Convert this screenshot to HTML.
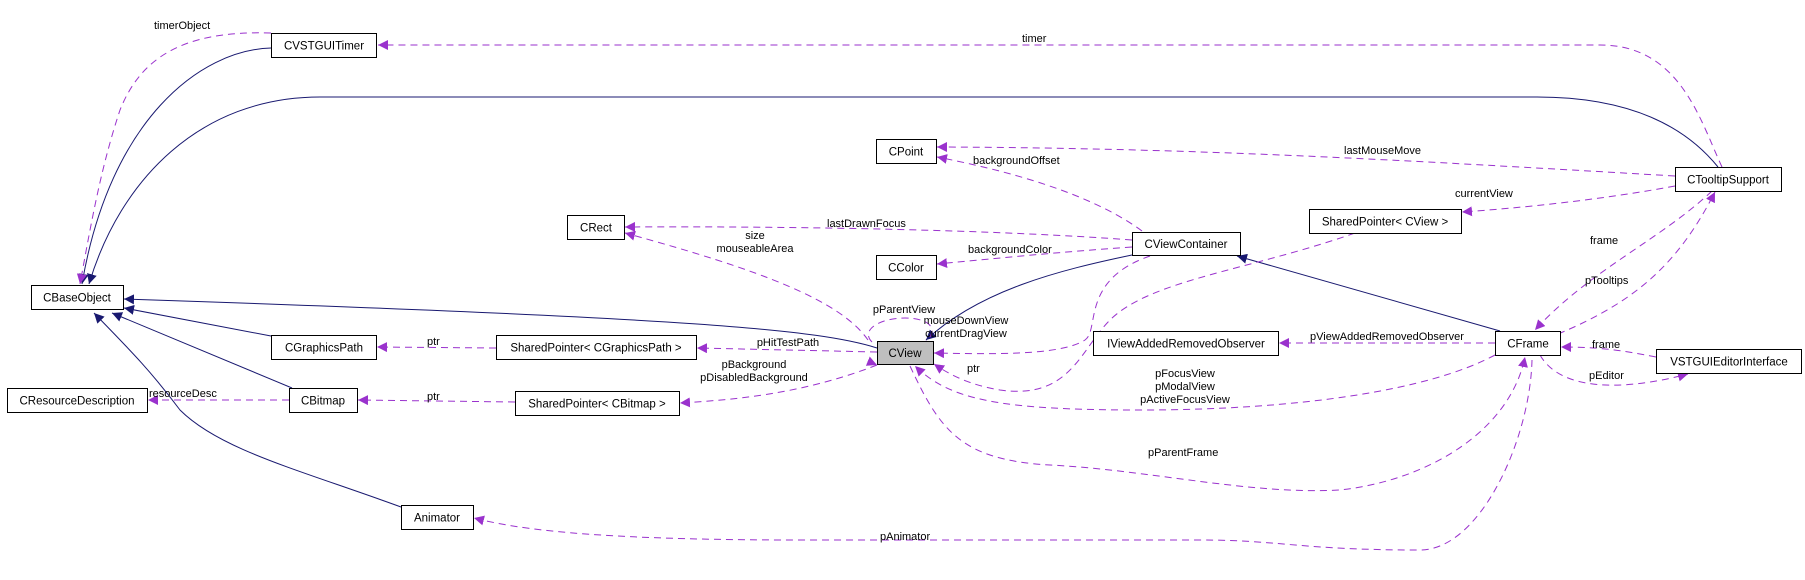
<!DOCTYPE html>
<html><head><meta charset="utf-8"><style>
html,body{margin:0;padding:0;background:#fff;}
svg{display:block;}
text{font-family:"Liberation Sans",Arial,sans-serif;font-size:11px;fill:#000;}
.n{font-size:11.5px;}
.b{fill:#fff;stroke:#000;stroke-width:1;}
.s{fill:none;stroke:#191970;stroke-width:1;}
.d{fill:none;stroke:#9a32cd;stroke-width:1;stroke-dasharray:7,5;}
</style></head><body>
<svg width="1805" height="580" viewBox="0 0 1805 580" xmlns="http://www.w3.org/2000/svg">
<defs>
<marker id="an" viewBox="0 0 10 10" refX="10" refY="5" markerWidth="10" markerHeight="10" markerUnits="userSpaceOnUse" orient="auto"><path d="M0,0 L10,5 L0,10 z" fill="#191970"/></marker>
<marker id="ap" viewBox="0 0 10 10" refX="10" refY="5" markerWidth="10" markerHeight="10" markerUnits="userSpaceOnUse" orient="auto"><path d="M0,0 L10,5 L0,10 z" fill="#9a32cd"/></marker>
</defs>

<!-- solid inheritance edges -->
<path class="s" marker-end="url(#an)" d="M271,48 C200,50 110,120 82,284"/>
<path class="s" marker-end="url(#an)" d="M1718,167 C1680,120 1620,97 1537,97 L320,97 C200,97 120,180 89,284"/>
<path class="s" marker-end="url(#an)" d="M877,348 C820,330 700,318 124,299"/>
<path class="s" marker-end="url(#an)" d="M271,336 L124,308"/>
<path class="s" marker-end="url(#an)" d="M292,388 L112,313"/>
<path class="s" marker-end="url(#an)" d="M401,507 C300,470 220,450 180,410 C150,370 130,350 94,313"/>
<path class="s" marker-end="url(#an)" d="M1132,255 C1060,270 980,290 926,340"/>
<path class="s" marker-end="url(#an)" d="M1500,331 L1237,256"/>

<!-- dashed usage edges -->
<path class="d" marker-end="url(#ap)" d="M1722,167 C1700,120 1680,45 1600,45 L378,45"/>
<text x="1022" y="42">timer</text>
<path class="d" marker-end="url(#ap)" d="M271,33 C180,30 140,60 120,110 C100,170 90,230 80,284"/>
<text x="154" y="29">timerObject</text>
<path class="d" marker-end="url(#ap)" d="M1675,176 C1400,160 1200,148 937,147"/>
<text x="1344" y="154">lastMouseMove</text>
<path class="d" marker-end="url(#ap)" d="M1142,231 C1100,200 1030,175 937,157"/>
<text x="973" y="164">backgroundOffset</text>
<path class="d" marker-end="url(#ap)" d="M1132,240 C1000,230 800,226 625,227"/>
<text x="827" y="227">lastDrawnFocus</text>
<path class="d" marker-end="url(#ap)" d="M1132,247 C1060,252 1000,258 937,264"/>
<text x="968" y="253">backgroundColor</text>
<path class="d" marker-end="url(#ap)" d="M868,340 C840,300 760,270 625,233"/>
<text x="755" y="239" text-anchor="middle">size</text>
<text x="755" y="252" text-anchor="middle">mouseableArea</text>
<path class="d" d="M872,342 C860,330 880,318 905,318 C930,318 940,330 925,342"/>
<text x="904" y="313" text-anchor="middle">pParentView</text>
<path class="d" marker-end="url(#ap)" d="M877,352 L697,348"/>
<text x="788" y="346" text-anchor="middle">pHitTestPath</text>
<path class="d" marker-end="url(#ap)" d="M877,365 C800,395 730,400 680,403"/>
<text x="754" y="368" text-anchor="middle">pBackground</text>
<path class="d" marker-end="url(#ap)" d="M877,365"/>
<text x="754" y="381" text-anchor="middle">pDisabledBackground</text>
<path class="d" marker-end="url(#ap)" d="M496,348 L377,347"/>
<text x="427" y="345">ptr</text>
<path class="d" marker-end="url(#ap)" d="M515,402 L358,400"/>
<text x="427" y="400">ptr</text>
<path class="d" marker-end="url(#ap)" d="M289,400 L148,400"/>
<text x="149" y="397">resourceDesc</text>
<path class="d" marker-end="url(#ap)" d="M1150,256 C1080,280 1100,330 1085,340 C1060,356 990,354 934,353"/>
<text x="966" y="324" text-anchor="middle">mouseDownView</text>
<text x="966" y="337" text-anchor="middle">currentDragView</text>
<path class="d" marker-end="url(#ap)" d="M1355,233 C1250,270 1150,280 1110,320 C1080,350 1070,400 1000,390 C970,385 950,375 934,364"/>
<text x="967" y="372">ptr</text>
<path class="d" marker-end="url(#ap)" d="M1675,186 C1600,200 1520,208 1462,212"/>
<text x="1455" y="197">currentView</text>
<path class="d" marker-end="url(#ap)" d="M1495,343 L1279,343"/>
<text x="1387" y="340" text-anchor="middle">pViewAddedRemovedObserver</text>
<path class="d" marker-end="url(#ap)" d="M1495,355 C1430,390 1300,410 1140,410 C1000,410 950,400 915,366"/>
<text x="1185" y="377" text-anchor="middle">pFocusView</text>
<text x="1185" y="390" text-anchor="middle">pModalView</text>
<text x="1185" y="403" text-anchor="middle">pActiveFocusView</text>
<path class="d" marker-end="url(#ap)" d="M910,366 C940,430 960,460 1050,465 C1150,470 1250,495 1340,490 C1430,480 1510,430 1525,357"/>
<text x="1148" y="456">pParentFrame</text>
<path class="d" marker-end="url(#ap)" d="M1532,360 C1530,440 1480,550 1420,550 C1300,550 1280,540 1200,540 L800,540 C600,540 520,530 474,518"/>
<text x="880" y="540">pAnimator</text>
<path class="d" marker-end="url(#ap)" d="M1712,191 C1660,240 1590,270 1535,330"/>
<text x="1590" y="244">frame</text>
<path class="d" marker-end="url(#ap)" d="M1558,334 C1640,300 1680,260 1715,192"/>
<text x="1585" y="284">pTooltips</text>
<path class="d" marker-end="url(#ap)" d="M1656,357 C1620,350 1600,347 1561,347"/>
<text x="1592" y="348">frame</text>
<path class="d" marker-end="url(#ap)" d="M1540,355 C1560,390 1620,392 1688,374"/>
<text x="1589" y="379">pEditor</text>

<!-- nodes -->
<rect class="b" x="271.5" y="33.5" width="105" height="24"/><text class="n" x="324" y="49.5" text-anchor="middle">CVSTGUITimer</text>
<rect class="b" x="31.5" y="285.5" width="92" height="24"/><text class="n" x="77" y="301.5" text-anchor="middle">CBaseObject</text>
<rect class="b" x="876.5" y="139.5" width="60" height="24"/><text class="n" x="906" y="155.5" text-anchor="middle">CPoint</text>
<rect class="b" x="567.5" y="215.5" width="57" height="24"/><text class="n" x="596" y="231.5" text-anchor="middle">CRect</text>
<rect class="b" x="876.5" y="255.5" width="60" height="24"/><text class="n" x="906" y="271.5" text-anchor="middle">CColor</text>
<rect class="b" x="1132.5" y="232.5" width="108" height="23"/><text class="n" x="1186" y="248" text-anchor="middle">CViewContainer</text>
<rect x="877.5" y="341.5" width="56" height="23" fill="#bfbfbf" stroke="#000"/><text class="n" x="905" y="357" text-anchor="middle">CView</text>
<rect class="b" x="271.5" y="335.5" width="105" height="24"/><text class="n" x="324" y="351.5" text-anchor="middle">CGraphicsPath</text>
<rect class="b" x="496.5" y="335.5" width="200" height="24"/><text class="n" x="596" y="351.5" text-anchor="middle">SharedPointer&lt; CGraphicsPath &gt;</text>
<rect class="b" x="7.5" y="388.5" width="140" height="24"/><text class="n" x="77" y="404.5" text-anchor="middle">CResourceDescription</text>
<rect class="b" x="289.5" y="388.5" width="68" height="24"/><text class="n" x="323" y="404.5" text-anchor="middle">CBitmap</text>
<rect class="b" x="515.5" y="391.5" width="164" height="24"/><text class="n" x="597" y="407.5" text-anchor="middle">SharedPointer&lt; CBitmap &gt;</text>
<rect class="b" x="401.5" y="505.5" width="72" height="24"/><text class="n" x="437" y="521.5" text-anchor="middle">Animator</text>
<rect class="b" x="1093.5" y="331.5" width="185" height="24"/><text class="n" x="1186" y="347.5" text-anchor="middle">IViewAddedRemovedObserver</text>
<rect class="b" x="1309.5" y="209.5" width="152" height="24"/><text class="n" x="1385" y="225.5" text-anchor="middle">SharedPointer&lt; CView &gt;</text>
<rect class="b" x="1675.5" y="167.5" width="106" height="24"/><text class="n" x="1728" y="183.5" text-anchor="middle">CTooltipSupport</text>
<rect class="b" x="1495.5" y="331.5" width="65" height="24"/><text class="n" x="1528" y="347.5" text-anchor="middle">CFrame</text>
<rect class="b" x="1656.5" y="349.5" width="145" height="24"/><text class="n" x="1729" y="365.5" text-anchor="middle">VSTGUIEditorInterface</text>
</svg>
</body></html>
